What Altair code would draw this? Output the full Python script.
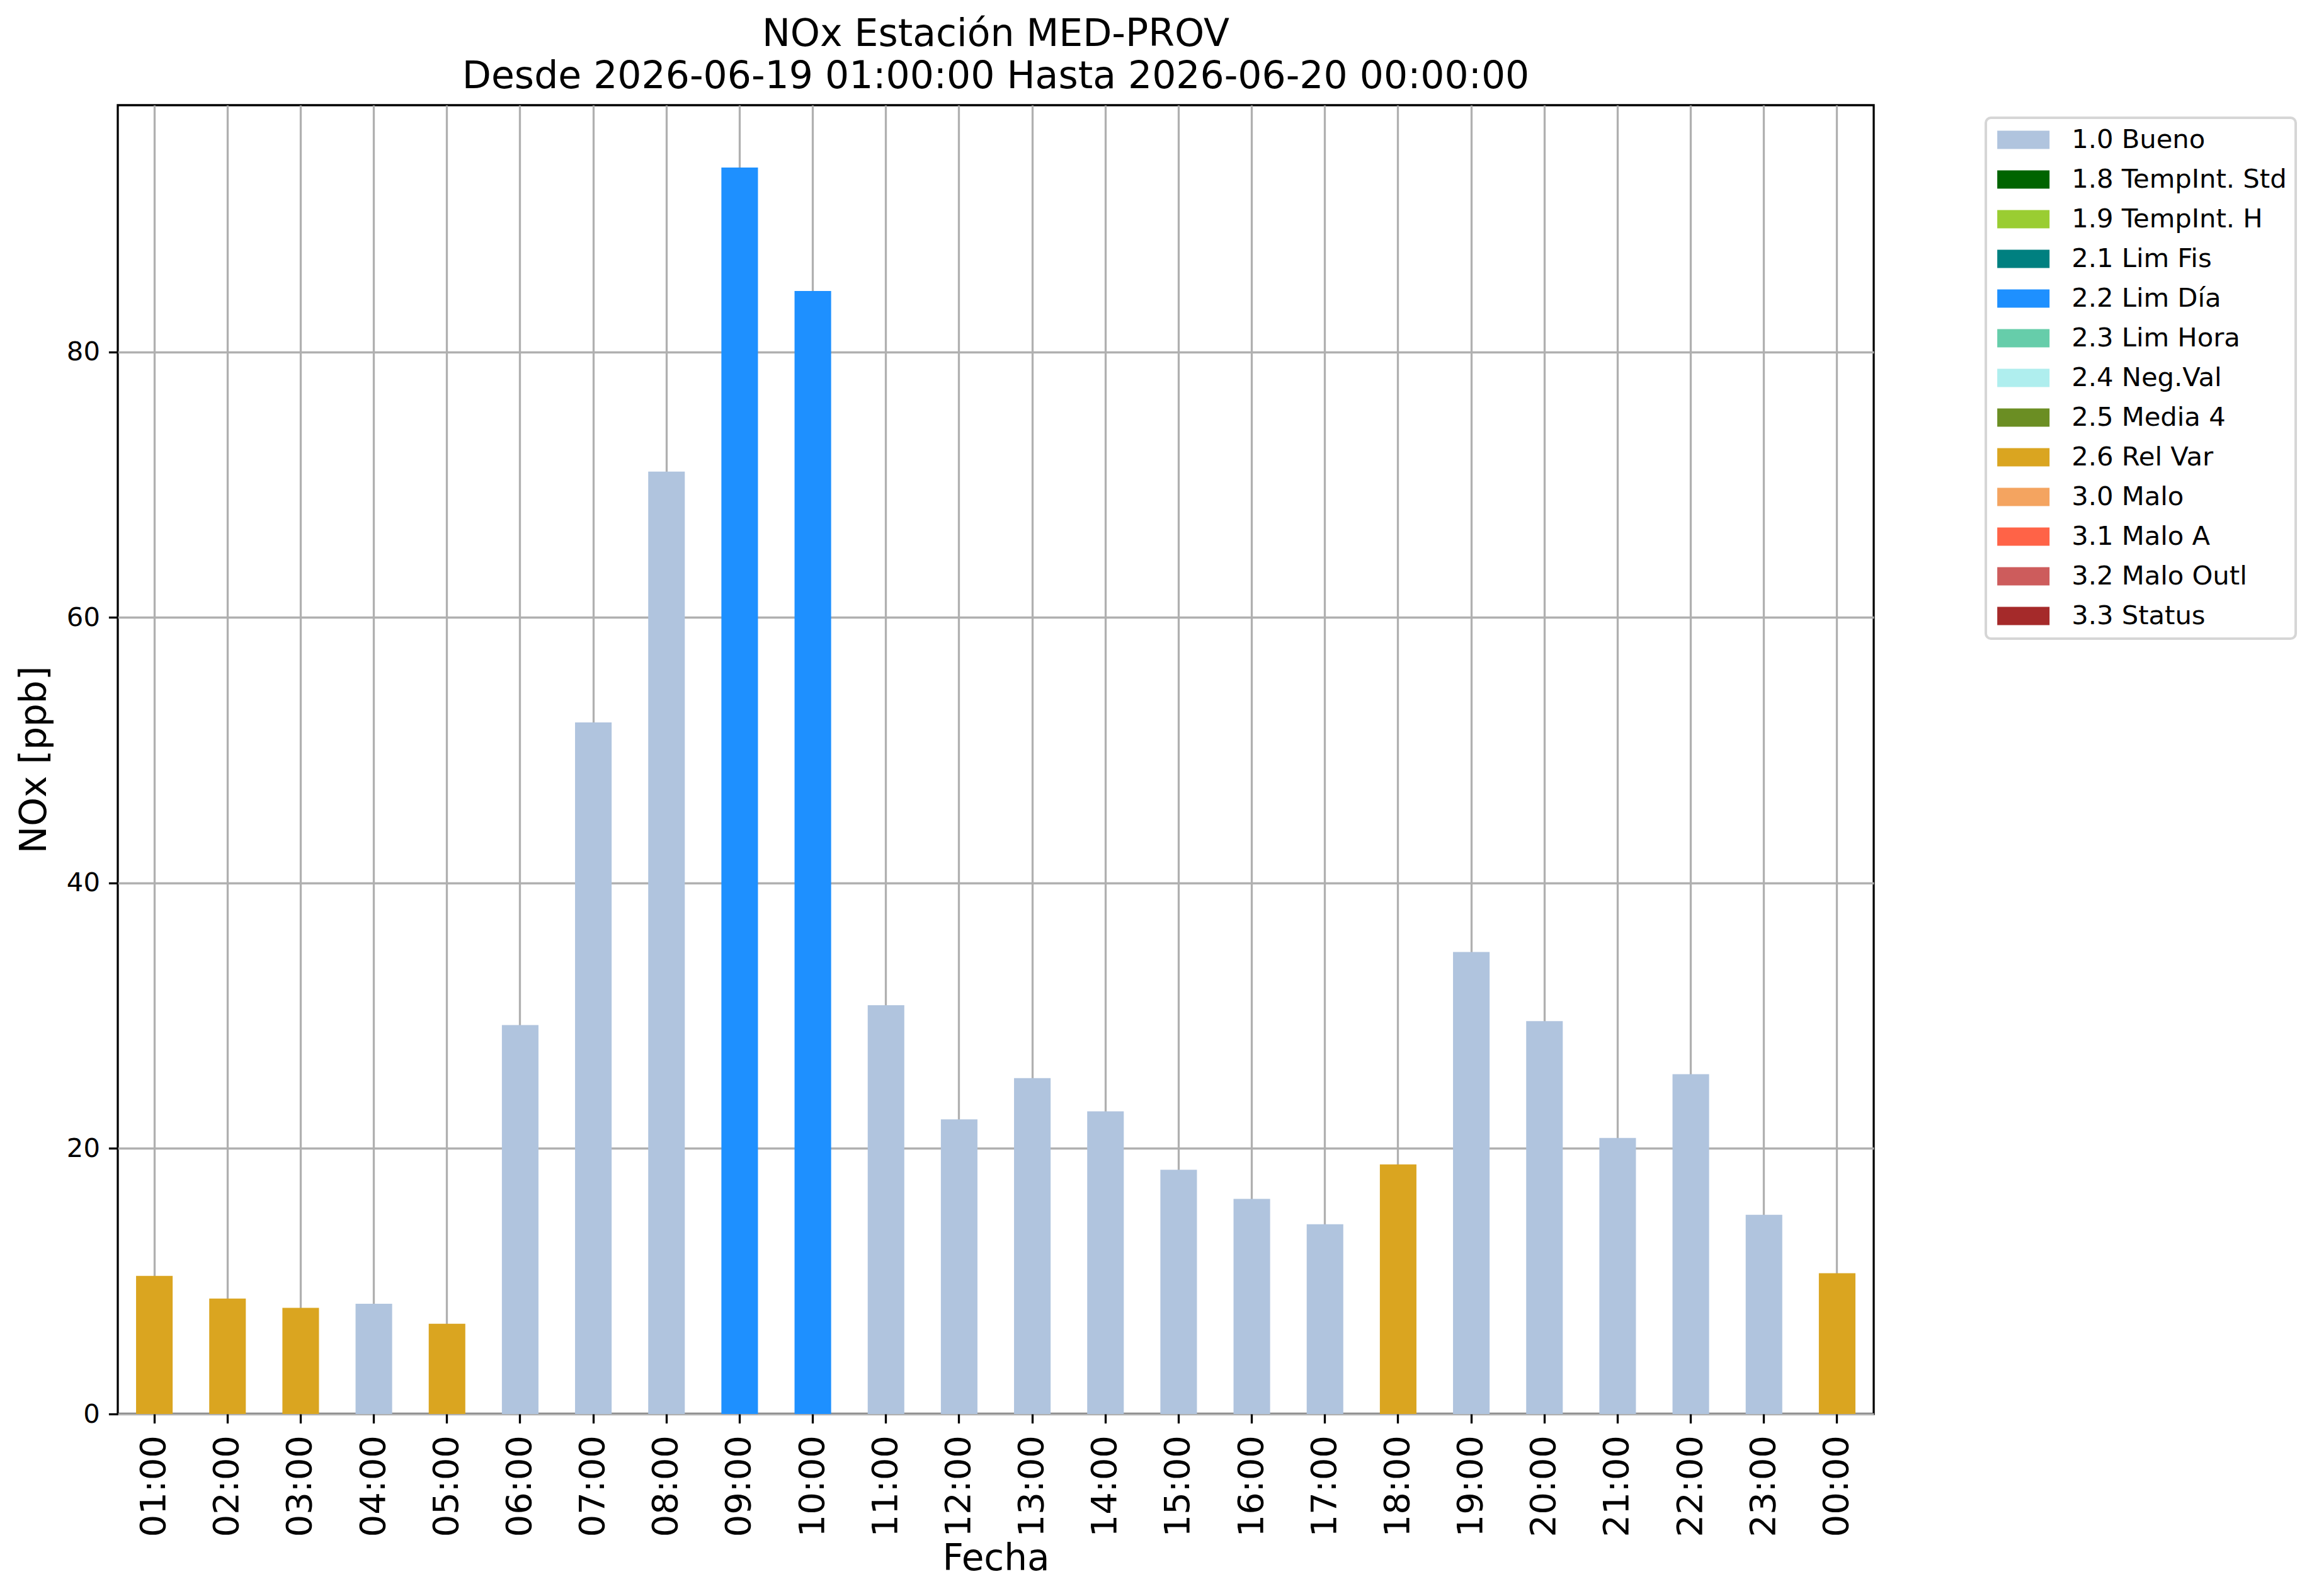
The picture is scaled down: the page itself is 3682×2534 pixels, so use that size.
import altair as alt
import pandas as pd

hours = ["01:00", "02:00", "03:00", "04:00", "05:00", "06:00", "07:00", "08:00",
         "09:00", "10:00", "11:00", "12:00", "13:00", "14:00", "15:00", "16:00",
         "17:00", "18:00", "19:00", "20:00", "21:00", "22:00", "23:00", "00:00"]
values = [10.4, 8.7, 8.0, 8.3, 6.8, 29.3, 52.1, 71.0,
          93.9, 84.6, 30.8, 22.2, 25.3, 22.8, 18.4, 16.2,
          14.3, 18.8, 34.8, 29.6, 20.8, 25.6, 15.0, 10.6]
flags = ["2.6 Rel Var", "2.6 Rel Var", "2.6 Rel Var", "1.0 Bueno", "2.6 Rel Var",
         "1.0 Bueno", "1.0 Bueno", "1.0 Bueno", "2.2 Lim Día", "2.2 Lim Día",
         "1.0 Bueno", "1.0 Bueno", "1.0 Bueno", "1.0 Bueno", "1.0 Bueno",
         "1.0 Bueno", "1.0 Bueno", "2.6 Rel Var", "1.0 Bueno", "1.0 Bueno",
         "1.0 Bueno", "1.0 Bueno", "1.0 Bueno", "2.6 Rel Var"]

flag_labels = ["1.0 Bueno", "1.8 TempInt. Std", "1.9 TempInt. H", "2.1 Lim Fis",
               "2.2 Lim Día", "2.3 Lim Hora", "2.4 Neg.Val", "2.5 Media 4",
               "2.6 Rel Var", "3.0 Malo", "3.1 Malo A", "3.2 Malo Outl", "3.3 Status"]
flag_colors = ["#B0C4DE", "#006400", "#9ACD32", "#008080", "#1E90FF", "#66CDAA",
               "#AFEEEE", "#6B8E23", "#DAA520", "#F4A460", "#FF6347", "#CD5C5C",
               "#A52A2A"]
y_ticks = [0, 20, 40, 60, 80]
y_max = 98.6

title_lines = ["NOx Estación MED-PROV", "Desde 2026-06-19 01:00:00 Hasta 2026-06-20 00:00:00"]

df = pd.DataFrame({"hora": hours, "nox": values, "flag": flags})

W = 2788
H = 2078
FONT = "DejaVu Sans"

chart = alt.Chart(df).mark_bar().encode(
    x=alt.X("hora:N", sort=hours,
            scale=alt.Scale(paddingInner=0.5, paddingOuter=0.25),
            axis=alt.Axis(title="Fecha", labelAngle=270, labelFontSize=56,
                          labelPadding=19, titleFontSize=58,
                          titleX=W / 2, titleY=247, titleBaseline="alphabetic",
                          titleAlign="center", grid=True)),
    y=alt.Y("nox:Q", scale=alt.Scale(domain=[0, y_max], nice=False, zero=True),
            axis=alt.Axis(title="NOx [ppb]", values=y_ticks, labelFontSize=41.7,
                          labelPadding=14, titleFontSize=58,
                          titleX=-115, titleY=H / 2, titleBaseline="alphabetic",
                          titleAlign="center", titleAngle=270, grid=True)),
    color=alt.Color("flag:N",
                    scale=alt.Scale(domain=flag_labels, range=flag_colors),
                    legend=alt.Legend(title=None, orient="none", legendX=2966,
                                      legendY=20,
                                      symbolType="M-1.99,-0.695L1.99,-0.695L1.99,0.695L-1.99,0.695Z",
                                      symbolSize=1739, symbolStrokeWidth=0,
                                      symbolOpacity=1, symbolOffset=24.65,
                                      labelFontSize=41.7, labelFont=FONT,
                                      labelOffset=55.5, labelLimit=1000,
                                      rowPadding=20, padding=14,
                                      strokeColor="#d6d6d6", cornerRadius=8,
                                      fillColor="white")),
).properties(
    width=W,
    height=H,
    title=alt.Title(title_lines, fontSize=60, font=FONT, fontWeight="normal",
                    anchor="middle", frame="group", offset=14, lineHeight=67,
                    color="black"),
    autosize=alt.AutoSizeParams(type="none"),
    padding={"left": 179, "top": 159, "right": 699, "bottom": 270},
).configure_view(
    stroke="black", strokeWidth=3.3
).configure_axis(
    labelFont=FONT, titleFont=FONT, labelColor="black", titleColor="black",
    titleFontWeight="normal", domain=False, tickColor="black", tickWidth=3.3,
    tickSize=14.6, gridColor="#b0b0b0", gridWidth=3.3, gridOpacity=1, zindex=1
).configure_legend(
    strokeWidth=4
)

chart.save("out.html", embed_options={"renderer": "svg", "actions": False})
